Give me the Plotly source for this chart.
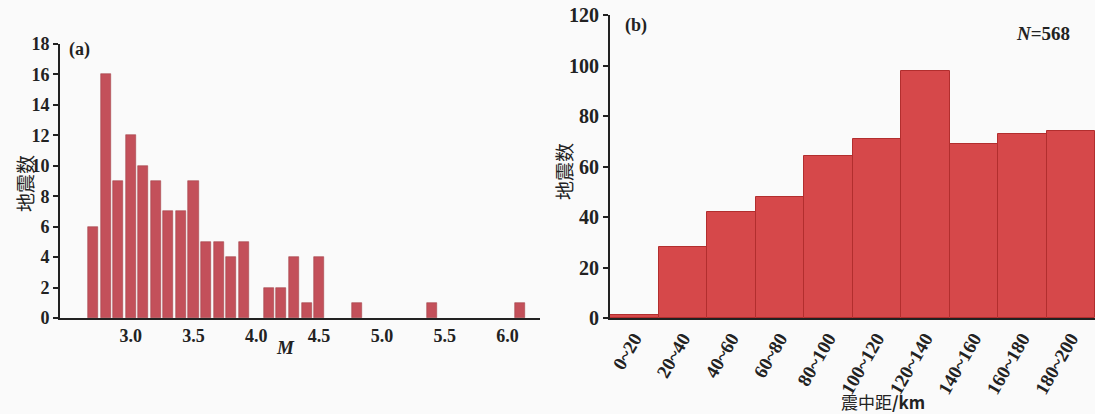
import plotly.graph_objects as go

# ---- data (a): magnitude histogram ----
mag_values = [2.7, 2.8, 2.9, 3.0, 3.1, 3.2, 3.3, 3.4, 3.5, 3.6, 3.7, 3.8, 3.9,
              4.1, 4.2, 4.3, 4.4, 4.5, 4.8, 5.4, 6.1]
mag_counts = [6, 16, 9, 12, 10, 9, 7, 7, 9, 5, 5, 4, 5,
              2, 2, 4, 1, 4, 1, 1, 1]
mag_ticks = [3.0, 3.5, 4.0, 4.5, 5.0, 5.5, 6.0]

# ---- data (b): epicentral distance histogram ----
dist_bins = ["0~20", "20~40", "40~60", "60~80", "80~100",
             "100~120", "120~140", "140~160", "160~180", "180~200"]
dist_counts = [1, 28, 42, 48, 64, 71, 98, 69, 73, 74]

W, H = 1095, 414
def px(x):
    return x / W
def py(y):
    return 1 - y / H

SERIF = "Liberation Serif, DejaVu Serif, serif"
CJK = "Noto Sans CJK SC, sans-serif"
TXT = "#222222"
BG = "#fafafa"

fig = go.Figure()
fig.add_trace(go.Bar(x=mag_values, y=mag_counts, width=0.08,
                     marker=dict(color="#c3505a", line=dict(color="#a5444c", width=0.6)),
                     xaxis="x", yaxis="y", showlegend=False))
fig.add_trace(go.Bar(x=dist_bins, y=dist_counts, width=1.0,
                     marker=dict(color="#d6484a", line=dict(color="#b22e2e", width=1)),
                     xaxis="x2", yaxis="y2", showlegend=False))

axis_common = dict(showline=True, linecolor=TXT, linewidth=2, showgrid=False,
                   zeroline=False, mirror=False, automargin=False,
                   ticklabeloverflow="allow")

fig.update_layout(
    width=W, height=H,
    margin=dict(l=0, r=0, t=0, b=0),
    paper_bgcolor=BG, plot_bgcolor=BG,
    bargap=0,
    xaxis=dict(domain=[px(60), px(540)], range=[2.437, 6.259],
               tickvals=mag_ticks, tickformat=".1f", ticks="",
               tickfont=dict(family=SERIF, size=18, color=TXT, weight="bold"),
               anchor="y", **axis_common),
    yaxis=dict(domain=[py(318), py(44)], range=[0, 18], dtick=2,
               ticks="outside", ticklen=5, tickwidth=2, tickcolor=TXT,
               tickfont=dict(family=SERIF, size=18, color=TXT, weight="bold"),
               anchor="x", **axis_common),
    xaxis2=dict(domain=[px(610), 1.0], range=[-0.5, 9.5], type="category",
                ticks="", tickangle=-60,
                tickfont=dict(family=SERIF, size=19, color=TXT, weight="bold"),
                anchor="y2", **axis_common),
    yaxis2=dict(domain=[py(318), py(15)], range=[0, 120], dtick=20,
                ticks="outside", ticklen=5, tickwidth=2, tickcolor=TXT,
                tickfont=dict(family=SERIF, size=20, color=TXT, weight="bold"),
                anchor="x2", **axis_common),
)

ann = [
    dict(text="地震数", x=px(24), y=py(184), textangle=-90,
         font=dict(family=CJK, size=19, color=TXT)),
    dict(text="地震数", x=px(563), y=py(172), textangle=-90,
         font=dict(family=CJK, size=19, color=TXT)),
    dict(text="<b>(a)</b>", x=px(79), y=py(50),
         font=dict(family=SERIF, size=18, color=TXT)),
    dict(text="<b>(b)</b>", x=px(636), y=py(25),
         font=dict(family=SERIF, size=18, color=TXT)),
    dict(text="<b><i>M</i></b>", x=px(285), y=py(347),
         font=dict(family=SERIF, size=19, color=TXT)),
    dict(text="<b><i>N</i>=568</b>", x=px(1043), y=py(33),
         font=dict(family=SERIF, size=19, color=TXT)),
    dict(text="震中距<b>/km</b>", x=px(883), y=py(401),
         font=dict(family=CJK, size=17, color=TXT)),
]
for a in ann:
    fig.add_annotation(xref="paper", yref="paper", showarrow=False,
                       xanchor="center", yanchor="middle", **a)

fig.write_html("out.html",
               config={"displayModeBar": False},
               post_script="document.body.style.margin='0';document.body.style.overflow='hidden';")
